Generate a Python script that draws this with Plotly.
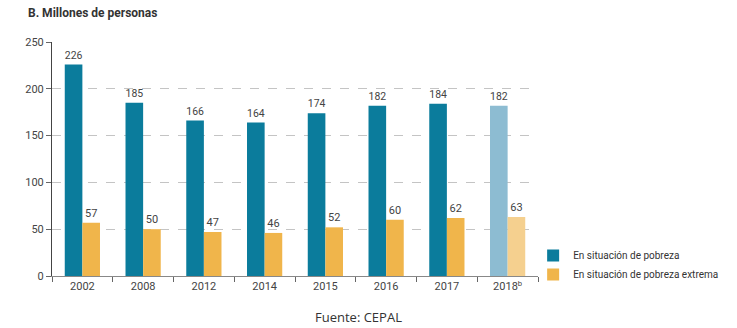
import plotly.graph_objects as go

years = ["2002", "2008", "2012", "2014", "2015", "2016", "2017", "2018<sup>b</sup>"]
pobreza = [226, 185, 166, 164, 174, 182, 184, 182]
extrema = [57, 50, 47, 46, 52, 60, 62, 63]

blue = ["#0b7c9c"] * 7 + ["#8dbcd2"]
yellow = ["#f0b54b"] * 7 + ["#f5d08f"]

font_fam = "Liberation Sans Narrow, Roboto, Arial Narrow, sans-serif"

fig = go.Figure()
fig.add_trace(go.Bar(
    x=years, y=pobreza, name="En situación de pobreza",
    marker=dict(color=blue, line=dict(width=0)),
    text=[str(v) for v in pobreza], textposition="outside",
    textfont=dict(size=11, color="#444", family=font_fam), cliponaxis=False,
))
fig.add_trace(go.Bar(
    x=years, y=extrema, name="En situación de pobreza extrema",
    marker=dict(color=yellow, line=dict(width=0)),
    text=[str(v) for v in extrema], textposition="outside",
    textfont=dict(size=11, color="#444", family=font_fam), cliponaxis=False,
))

fig.update_layout(
    width=737, height=328,
    margin=dict(l=52, r=199, t=42, b=52),
    paper_bgcolor="white", plot_bgcolor="white",
    barmode="group", bargap=0.42, bargroupgap=0,
    font=dict(family=font_fam, size=11, color="#444"),
    showlegend=True,
    legend=dict(x=0.99, y=0.15, xanchor="left", yanchor="top",
                font=dict(size=10, color="#333", family=font_fam),
                tracegroupgap=4, itemwidth=30, bgcolor="rgba(0,0,0,0)"),
    xaxis=dict(
        showline=True, linecolor="#888", linewidth=1,
        ticks="outside", ticklen=5, tickcolor="#666", tickson="boundaries",
        tickfont=dict(size=11, color="#444"), showgrid=False,
    ),
    yaxis=dict(
        range=[0, 250], tickvals=[0, 50, 100, 150, 200, 250],
        showline=True, linecolor="#444", linewidth=1,
        ticks="outside", ticklen=5, tickcolor="#666",
        showgrid=True, gridcolor="#c4c4c4", griddash="dash", gridwidth=1,
        zeroline=False, tickfont=dict(size=11, color="#444"),
    ),
    annotations=[
        dict(text="<b>B. Millones de personas</b>", xref="paper", yref="paper",
             x=-0.053, y=1.125, xanchor="left", yanchor="middle", showarrow=False,
             font=dict(size=12, color="#333", family=font_fam)),
        dict(text="Fuente: CEPAL", xref="paper", yref="paper",
             x=0.63, y=-0.175, xanchor="center", yanchor="middle", showarrow=False,
             font=dict(size=13, color="#333", family="Open Sans, sans-serif")),
    ],
)

fig.write_html("out.html")
